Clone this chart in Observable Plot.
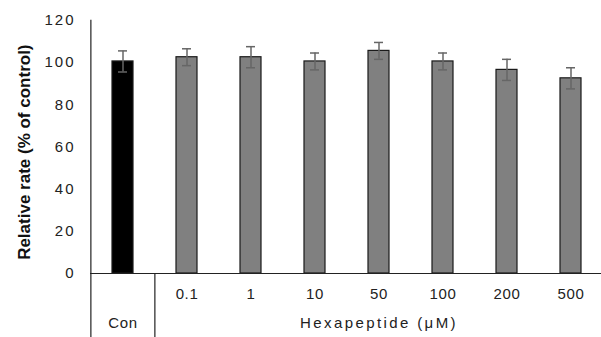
<!DOCTYPE html>
<html>
<head>
<meta charset="utf-8">
<script src="https://cdn.jsdelivr.net/npm/d3@7"></script>
<script src="https://cdn.jsdelivr.net/npm/@observablehq/plot@0.6"></script>
<style>
  html, body { margin: 0; padding: 0; background: #fff; }
  svg { display: block; }
  .ylab text { letter-spacing: 2px; }
  .xlab text { letter-spacing: 0.6px; }
  .grp text { letter-spacing: 2.4px; }
</style>
</head>
<body>
<div id="chart"></div>
<script>
const categories = ["Con", "0.1", "1", "10", "50", "100", "200", "500"];
const values = [100.5, 102.5, 102.5, 100.5, 105.5, 100.5, 96.5, 92.5];
const errors = [5, 4, 5, 4, 4, 4, 5, 5];
const yTicks = [0, 20, 40, 60, 80, 100, 120];
const yTitle = "Relative rate (% of control)";
const groupLabel = "Hexapeptide (\u03BCM)";

const data = categories.map((c, i) => ({cat: c, v: values[i], e: errors[i]}));
const step = (604 - 90) / categories.length;
const font = "'Liberation Sans', Arial, sans-serif";

const chart = Plot.plot({
  width: 601,
  height: 337,
  marginLeft: 90,
  marginRight: 0,
  marginTop: 0,
  marginBottom: 0,
  style: {fontFamily: font, fontSize: "15px", color: "#222", background: "#fff"},
  x: {domain: categories, range: [90, 604], paddingInner: 0.67, paddingOuter: 0.335, align: 0.5, axis: null},
  y: {domain: [0, 120], range: [273, 19.8], axis: null},
  marks: [
    Plot.barY(data, {x: "cat", y: "v", fill: d => d.cat === "Con" ? "#000" : "#808080", stroke: "#1a1a1a", strokeWidth: 1.2}),
    Plot.ruleX(data, {x: "cat", y1: d => d.v - d.e, y2: d => d.v + d.e, stroke: "#666", strokeWidth: 1.5}),
    Plot.tickY(data, {x: "cat", y: d => d.v + d.e, stroke: "#666", strokeWidth: 1.5, insetLeft: 6, insetRight: 6}),
    Plot.tickY(data, {x: "cat", y: d => d.v - d.e, stroke: "#666", strokeWidth: 1.5, insetLeft: 6, insetRight: 6}),
    Plot.ruleY([0], {stroke: "#222", strokeWidth: 1.2}),
    Plot.ruleX(["Con"], {x: d => d, dx: -step / 2, y1: 120, y2: -31, stroke: "#222", strokeWidth: 1.2}),
    Plot.ruleX(["0.1"], {x: d => d, dx: -step / 2, y1: 0, y2: -31, stroke: "#222", strokeWidth: 1.2}),
    Plot.text(yTicks, {x: null, frameAnchor: "left", dx: -15, y: d => d, text: d => String(d), textAnchor: "end",
      fontSize: 15, fill: "#222", className: "ylab"}),
    Plot.text(categories.filter(c => c !== "Con"), {x: d => d, y: -9.7, text: d => d, fontSize: 15, fill: "#222", className: "xlab"}),
    Plot.text(["Con"], {x: d => d, y: -23.4, text: d => d, fontSize: 15, fill: "#222", className: "xlab"}),
    Plot.text([groupLabel], {x: () => "50", y: -23.4, text: d => d, fontSize: 15, fill: "#222", className: "grp"}),
    Plot.text([yTitle], {frameAnchor: "left", x: null, y: 57.5, dx: -66, rotate: -90, textAnchor: "middle", text: d => d,
      fontSize: 17, fontWeight: "bold", fill: "#111"})
  ]
});
document.getElementById("chart").appendChild(chart);
</script>
</body>
</html>
